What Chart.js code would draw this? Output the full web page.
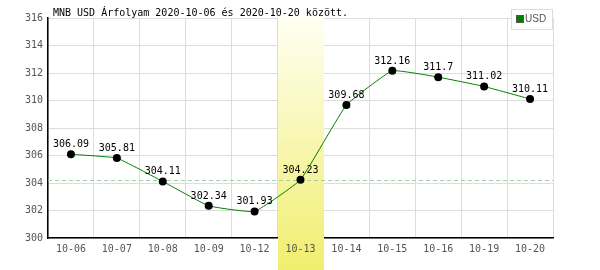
<!DOCTYPE html>
<html><head><meta charset="utf-8">
<script src="https://cdn.jsdelivr.net/npm/chart.js@4/dist/chart.umd.min.js"></script>
<style>html,body{margin:0;padding:0;background:#fff}#wrap{width:600px;height:270px}</style>
</head><body><div id="wrap"><canvas id="c" width="600" height="270"></canvas></div>
<script>
const categories = ["10-06","10-07","10-08","10-09","10-12","10-13","10-14","10-15","10-16","10-19","10-20"];
const usdValues = [306.09,305.81,304.11,302.34,301.93,304.23,309.68,312.16,311.7,311.02,310.11];
const yTicks = [300,302,304,306,308,310,312,314,316];
const highlightIndex = 5;
const refValue = 304.23;
const titleText = "MNB USD Árfolyam 2020-10-06 és 2020-10-20 között.";
const seriesName = "USD";

const mono = "'DejaVu Sans Mono', monospace";

const overlay = {
  id: 'overlay',
  beforeDatasetsDraw(chart) {
    const ctx = chart.ctx, x = chart.scales.x, y = chart.scales.y, a = chart.chartArea;
    const step = (a.right - a.left) / categories.length;
    const cx = x.getPixelForValue(highlightIndex);
    const g = ctx.createLinearGradient(0, a.top, 0, chart.height);
    g.addColorStop(0, '#fffff2');
    g.addColorStop(1, '#f0ee6e');
    ctx.save();
    ctx.fillStyle = g;
    ctx.fillRect(Math.round(cx - step / 2), a.top, Math.round(step), chart.height - a.top);
    // highlighted category label redrawn on top of the band
    ctx.font = '10px ' + mono;
    ctx.fillStyle = '#555';
    ctx.textAlign = 'center';
    ctx.textBaseline = 'middle';
    ctx.fillText(categories[highlightIndex], cx, a.bottom + 11);
    // reference dashed line
    const ry = Math.round(y.getPixelForValue(refValue)) + 0.5;
    ctx.strokeStyle = '#a8cca8';
    ctx.lineWidth = 1;
    ctx.setLineDash([4, 3]);
    ctx.beginPath(); ctx.moveTo(a.left, ry); ctx.lineTo(a.right, ry); ctx.stroke();
    ctx.restore();
  },
  afterDatasetsDraw(chart) {
    const ctx = chart.ctx;
    const meta = chart.getDatasetMeta(0);
    ctx.save();
    ctx.font = '10px ' + mono;
    ctx.fillStyle = '#000';
    ctx.textAlign = 'center';
    ctx.textBaseline = 'alphabetic';
    meta.data.forEach((p, i) => {
      ctx.fillText(String(usdValues[i]), p.x, p.y - 7);
    });
    // title
    ctx.textAlign = 'left';
    ctx.textBaseline = 'middle';
    ctx.fillText(titleText, 53, 13);
    // legend
    ctx.fillStyle = '#fff';
    ctx.fillRect(511, 9, 41, 20);
    ctx.strokeStyle = '#dddddd';
    ctx.strokeRect(511.5, 9.5, 41, 20);
    ctx.fillStyle = '#008000';
    ctx.fillRect(517, 16, 7, 7);
    ctx.strokeStyle = '#555';
    ctx.strokeRect(516.5, 15.5, 7, 7);
    ctx.fillStyle = '#555';
    ctx.font = '10px "Liberation Sans", sans-serif';
    ctx.fillText(seriesName, 525, 19.5);
    ctx.restore();
  }
};

new Chart(document.getElementById('c'), {
  type: 'line',
  data: {
    labels: categories,
    datasets: [{
      label: seriesName,
      data: usdValues,
      borderColor: '#008000',
      borderWidth: 1,
      tension: 0.1,
      pointRadius: 4,
      pointBackgroundColor: '#000',
      pointBorderColor: '#000',
      pointBorderWidth: 0,
      fill: false
    }]
  },
  options: {
    responsive: false,
    animation: false,
    devicePixelRatio: 1,
    layout: { padding: { top: 18, right: 47, bottom: 0, left: 0 } },
    plugins: { legend: { display: false }, title: { display: false }, tooltip: { enabled: false } },
    scales: {
      x: {
        offset: true,
        afterFit(s) { s.height = 32; },
        grid: { offset: true, color: '#dddddd', drawTicks: false },
        border: { color: '#000', width: 1.5 },
        ticks: { color: '#555', font: { family: mono, size: 10 }, padding: 5, maxRotation: 0, autoSkip: false }
      },
      y: {
        min: 300, max: 316,
        afterFit(s) { s.width = 48; },
        afterBuildTicks(s) { s.ticks = yTicks.map(v => ({ value: v })); },
        grid: { color: '#dddddd', drawTicks: false },
        border: { color: '#000', width: 1.5 },
        ticks: { color: '#555', font: { family: mono, size: 10 }, padding: 5 }
      }
    }
  },
  plugins: [overlay]
});
</script></body></html>
